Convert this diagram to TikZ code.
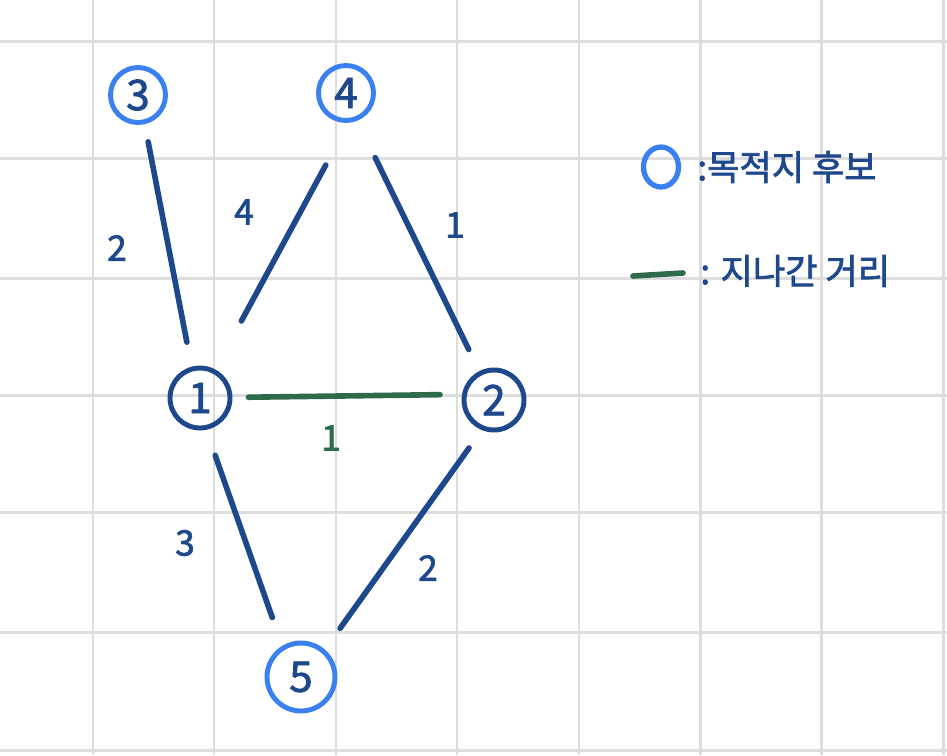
\documentclass[tikz,border=0pt]{standalone}
\usepackage{fontspec}
\setmainfont{Noto Sans CJK KR}
\newfontfamily\hand{Noto Sans CJK KR}[FakeBold=2]
\usetikzlibrary{shapes.geometric}
\definecolor{ink}{RGB}{30,72,140}
\definecolor{pen}{RGB}{58,128,240}
\definecolor{trail}{RGB}{46,106,76}
\definecolor{paper}{RGB}{221,221,221}
\tikzset{
    gridline/.style={draw=paper,line width=1.7pt},
    place/.style={circle,draw=ink,line width=2.8pt,text=ink,inner sep=0pt,
        minimum size=1.2cm,font=\hand\fontsize{24}{24}\selectfont},
    cand/.style={place,draw=pen,minimum size=1.1cm},
    road/.style={draw=ink,line width=3.2pt,line cap=round},
    walked/.style={draw=trail,line width=3.2pt,line cap=round},
    cost/.style={text=ink,font=\hand\fontsize{20}{20}\selectfont},
    legtext/.style={text=ink,anchor=west,inner sep=0pt,font=\hand\fontsize{20}{20}\selectfont},
    legmark/.style={ellipse,draw=pen,line width=3pt,minimum width=0.7cm,minimum height=0.8cm,inner sep=0pt}
}
\begin{document}
\begin{tikzpicture}[x=0.02cm,y=-0.02cm]
  \fill[white] (0,0) rectangle (947,755);
  \useasboundingbox (0,0) rectangle (947,755);
  % squared paper
  \foreach \x in {93,214,336,457,579,700,821,943}
    \draw[gridline] (\x,0) -- (\x,755);
  \foreach \y in {41,158,278,395,512,632,750}
    \draw[gridline] (0,\y) -- (947,\y);
  % places: candidates in light blue
  \node[cand] (n3) at (138,95) {3};
  \node[cand] (n4) at (346,93) {4};
  \node[place] (n1) at (200,398) {1};
  \node[place] (n2) at (494,400) {2};
  \node[cand,minimum size=1.36cm] (n5) at (301,677) {5};
  % roads between places
  \draw[road,shorten <=0.36cm,shorten >=0.5cm] (n3.283) -- (n1.105);
  \draw[road,shorten <=0.96cm,shorten >=1.1cm] (n4.275) -- (n1.62);
  \draw[road,shorten <=0.82cm,shorten >=0.48cm] (n4.292) -- (n2.117);
  \draw[walked,shorten <=0.32cm,shorten >=0.44cm] (n1.1) -- (n2.170);
  \draw[road,shorten <=0.54cm,shorten >=0.6cm] (n1.281) -- (n5.121);
  \draw[road,shorten <=0.44cm,shorten >=0.52cm] (n2.248) -- (n5.49);
  % distances
  \node[cost] (w31) at (117,248) {2};
  \node[cost] (w41) at (244,212) {4};
  \node[cost] (w42) at (455,225) {1};
  \node[cost,text=trail] (w12) at (331,438) {1};
  \node[cost] (w15) at (185,543) {3};
  \node[cost] (w25) at (428,568) {2};
  % legend
  \node[legmark] (legc) at (661,167) {};
  \node[legtext] (legt1) at (697,167) {:목적지 후보};
  \coordinate (lg1) at (633,276);
  \coordinate (lg2) at (683,273);
  \draw[walked] (lg1) -- (lg2);
  \node[legtext] (legt2) at (700,271) {: 지나간 거리};
\end{tikzpicture}
\end{document}
